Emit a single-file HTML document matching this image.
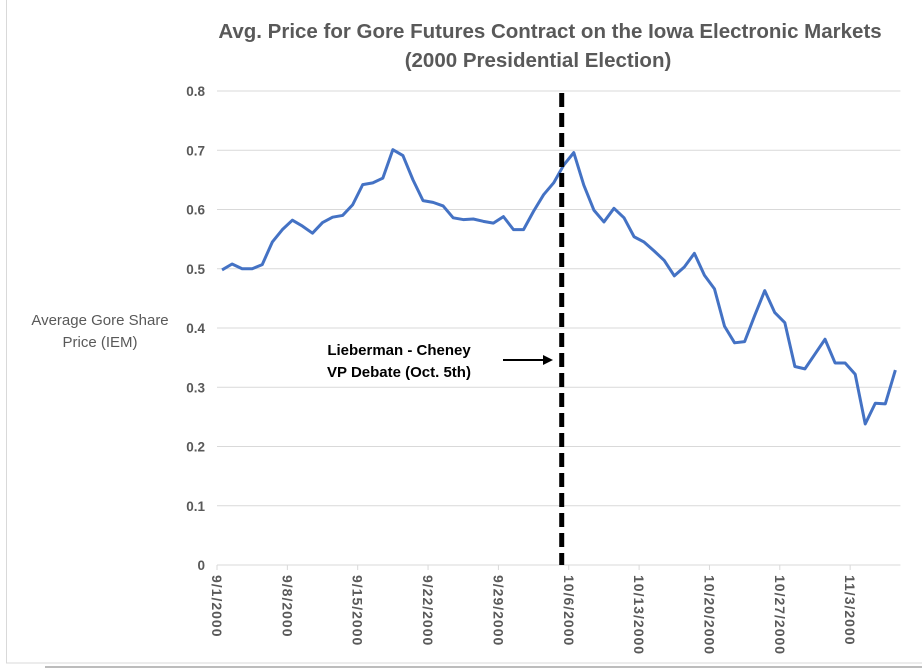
<!DOCTYPE html>
<html><head><meta charset="utf-8"><style>
body{margin:0;background:#fff;}
svg{display:block;font-family:"Liberation Sans",sans-serif;}
</style></head><body>
<svg width="922" height="668" viewBox="0 0 922 668" id="chart">
<rect x="6.5" y="-1" width="930" height="664" fill="#fff" stroke="#d9d9d9"/>
<line x1="45" y1="667" x2="922" y2="667" stroke="#a6a6a6" stroke-width="1.5"/>
<text x="550" y="38" text-anchor="middle" font-size="20.5" font-weight="bold" fill="#595959">Avg. Price for Gore Futures Contract on the Iowa Electronic Markets</text>
<text x="538" y="67" text-anchor="middle" font-size="20.5" font-weight="bold" fill="#595959">(2000 Presidential Election)</text>
<text x="100" y="325" text-anchor="middle" font-size="15" fill="#595959">Average Gore Share</text>
<text x="100" y="347" text-anchor="middle" font-size="15" fill="#595959">Price (IEM)</text>
<g id="grid"></g><g id="yticks"></g><g id="xticks"></g>
<polyline id="series" fill="none" stroke="#4472c4" stroke-width="3" stroke-linejoin="round"/>
<line id="debate" y1="93" y2="565" stroke="#000" stroke-width="5" stroke-dasharray="14,6"/>
<text x="399" y="355" text-anchor="middle" font-size="15" font-weight="bold" fill="#000">Lieberman - Cheney</text>
<text x="399" y="377" text-anchor="middle" font-size="15" font-weight="bold" fill="#000">VP Debate (Oct. 5th)</text>
<line x1="503" y1="360" x2="545" y2="360" stroke="#000" stroke-width="2"/>
<polygon points="553,360 543,355 543,365" fill="#000"/>
</svg>
<script>
const values=[0.498,0.508,0.500,0.500,0.507,0.545,0.566,0.582,0.572,0.560,0.578,0.587,0.590,0.608,0.642,0.645,0.653,0.701,0.691,0.650,0.615,0.612,0.606,0.586,0.583,0.584,0.580,0.577,0.588,0.566,0.566,0.597,0.625,0.645,0.675,0.696,0.641,0.599,0.579,0.602,0.586,0.554,0.545,0.530,0.514,0.488,0.503,0.526,0.489,0.466,0.403,0.375,0.377,0.421,0.463,0.426,0.409,0.335,0.331,0.356,0.381,0.341,0.341,0.322,0.238,0.273,0.272,0.329];
const xTickLabels=["9/1/2000","9/8/2000","9/15/2000","9/22/2000","9/29/2000","10/6/2000","10/13/2000","10/20/2000","10/27/2000","11/3/2000"];
const yTickLabels=["0","0.1","0.2","0.3","0.4","0.5","0.6","0.7","0.8"];
const yTickValues=[0,0.1,0.2,0.3,0.4,0.5,0.6,0.7,0.8];
const debateIndex=33.8;
const ns="http://www.w3.org/2000/svg";
const X0=217,W=10.05,Y0=565,YS=592.5;
const xs=i=>X0+W*(i+0.5);
const ys=v=>Y0-v*YS;
function mk(t,a,p){const e=document.createElementNS(ns,t);for(const k in a)e.setAttribute(k,a[k]);p.appendChild(e);return e;}
const grid=document.getElementById('grid'),yt=document.getElementById('yticks'),xt=document.getElementById('xticks');
yTickValues.forEach((v,i)=>{
 const l=mk('line',{x1:X0,x2:X0+W*values.length,y1:ys(v),y2:ys(v),stroke:'#d9d9d9','stroke-width':1},grid);
 
 
 const t=mk('text',{x:205,y:ys(v)+5,'text-anchor':'end','font-size':13.5,'font-weight':'bold',fill:'#595959'},yt);
 t.textContent=yTickLabels[i];
 
 
});
xTickLabels.forEach((s,k)=>{
 const x=X0+W*7*k;
 const tk=mk('line',{x1:x,x2:x,y1:Y0,y2:Y0+5,stroke:'#d9d9d9'},xt);
 
 
 const t=mk('text',{transform:`translate(${x-5},${Y0+10}) rotate(90)`,'font-size':14,'letter-spacing':'1','font-weight':'bold',fill:'#595959'},xt);
 t.textContent=s;
 
 
});
document.getElementById('series').setAttribute('points',values.map((v,i)=>xs(i)+','+ys(v)).join(' '));
const d=document.getElementById('debate');d.setAttribute('x1',xs(debateIndex));d.setAttribute('x2',xs(debateIndex));
</script>
</body></html>
